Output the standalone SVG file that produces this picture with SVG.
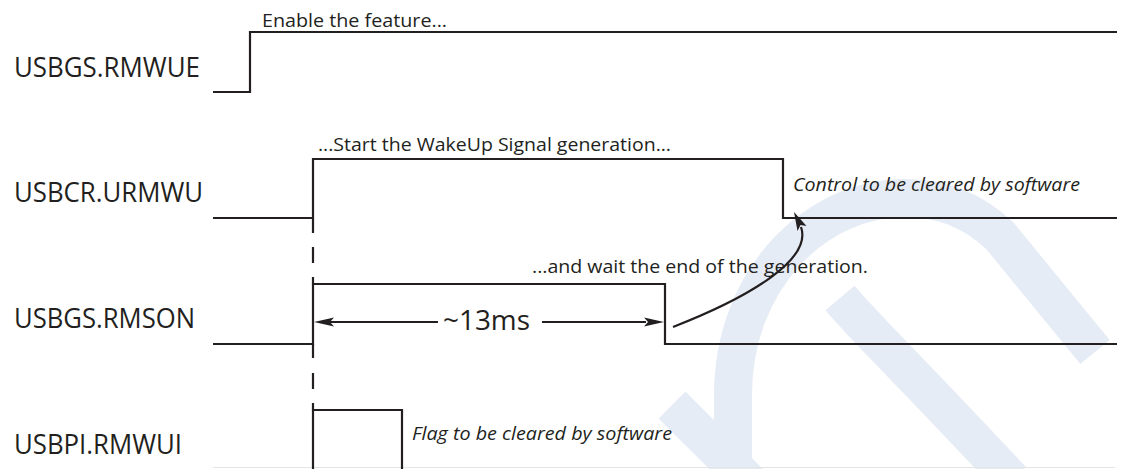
<svg xmlns="http://www.w3.org/2000/svg" width="1125" height="469" viewBox="0 0 1125 469">
<style>
.sig{fill:none;stroke:#231f20;stroke-width:2.2;stroke-linejoin:miter;stroke-linecap:butt}
.lbl{font-family:"Open Sans","Noto Sans",sans-serif;font-size:27px;fill:#231f20}
.note{font-family:"Open Sans","Noto Sans",sans-serif;font-size:19px;fill:#231f20}
.it{font-style:italic}
.wm{fill:none;stroke:#e6ecf5;stroke-width:38;stroke-linecap:butt;stroke-linejoin:round}
.head{fill:#231f20;stroke:none}
</style>
<rect width="1125" height="469" fill="#ffffff"/>
<g id="watermark">
  <path class="wm" d="M672 405 L762 495"/>
  <path class="wm" d="M733 490 L733 395 C733 280 815 198 905 198 C945 198 975 212 1000 236 L1095 352"/>
  <path class="wm" d="M840 298 C865 328 900 360 1012 480"/>
</g>
<line x1="213" y1="467.5" x2="1115" y2="467.5" stroke="#e4e4e4" stroke-width="1"/>
<g id="sig-rmwue">
  <text class="lbl" x="14" y="77" textLength="186" lengthAdjust="spacingAndGlyphs">USBGS.RMWUE</text>
  <path class="sig" d="M213 92 H250 V32 H1117"/>
  <text class="note" x="262" y="27" textLength="185" lengthAdjust="spacingAndGlyphs">Enable the feature...</text>
</g>
<g id="sig-urmwu">
  <text class="lbl" x="14" y="202" textLength="189" lengthAdjust="spacingAndGlyphs">USBCR.URMWU</text>
  <path class="sig" d="M213 218 H313 V159 H783 V218 H1117"/>
  <text class="note" x="318" y="151" textLength="353" lengthAdjust="spacingAndGlyphs">...Start the WakeUp Signal generation...</text>
  <text class="note it" x="793" y="191" textLength="287" lengthAdjust="spacingAndGlyphs">Control to be cleared by software</text>
</g>
<g id="sig-rmson">
  <text class="lbl" x="14" y="328" textLength="181" lengthAdjust="spacingAndGlyphs">USBGS.RMSON</text>
  <path class="sig" d="M213 344 H313 V284 H665 V344 H1117"/>
  <text class="note" x="532" y="273" textLength="336" lengthAdjust="spacingAndGlyphs">...and wait the end of the generation.</text>
</g>
<g id="sig-rmwui">
  <text class="lbl" x="14" y="454" textLength="168" lengthAdjust="spacingAndGlyphs">USBPI.RMWUI</text>
  <path class="sig" d="M313 470 V410 H402 V470"/>
  <text class="note it" x="412" y="440" textLength="260" lengthAdjust="spacingAndGlyphs">Flag to be cleared by software</text>
</g>
<g id="connectors">
  <path class="sig" d="M313 218 V233 M313 247 V263 M313 277 V284 M313 344 V358 M313 373 V389 M313 403 V410"/>
  <g id="dimension">
    <path class="sig" d="M330 322 H438 M542 322 H646"/>
    <polygon class="head" points="314,322 334,317.5 330,322 334,326.5"/>
    <polygon class="head" points="664,322 644,317.5 648,322 644,326.5"/>
    <text class="lbl" x="443" y="330" textLength="87" lengthAdjust="spacingAndGlyphs">~13ms</text>
  </g>
  <g id="curved-arrow">
    <path class="sig" d="M673 327 C755 295 812 258 801 227"/>
    <polygon class="head" points="794,212 806.5,226 800.5,225 797.5,231"/>
  </g>
</g>
</svg>
